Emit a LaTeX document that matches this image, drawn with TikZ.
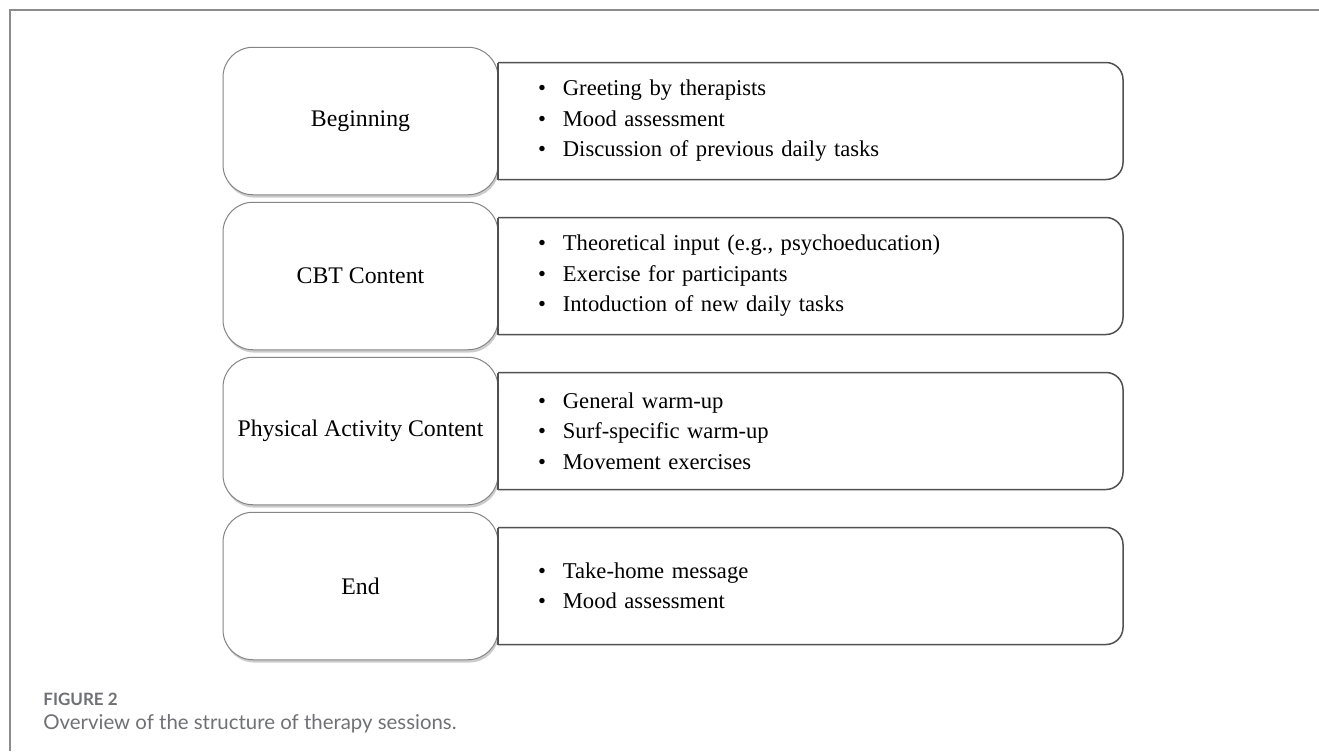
\documentclass[tikz,border=0pt]{standalone}
\usepackage{fontspec}
\setmainfont{Liberation Serif}
\newfontfamily\capfont{Lato}
\usetikzlibrary{positioning,shadows}
\definecolor{framegray}{HTML}{8C8C8C}
\definecolor{capgray}{HTML}{707174}
\definecolor{linegray}{HTML}{505050}
\definecolor{boxgray}{HTML}{858585}
\newcommand{\blt}{\textbullet\hspace{8.5pt}}

\begin{document}
\begin{tikzpicture}[x=0.5pt, y=-0.5pt, node distance=3.75pt,
  stage/.style={rectangle, draw=boxgray, line width=0.5pt, fill=white, rounded corners=15pt,
    minimum width=137.5pt, minimum height=73.75pt, outer sep=0pt,
    font=\fontsize{11.9}{14}\selectfont,
    drop shadow={shadow xshift=0.6pt, shadow yshift=-1.4pt, opacity=0.4}},
  items/.style={rectangle, text width=272.5pt, inner xsep=20pt, inner ysep=0pt,
    minimum height=58.5pt, align=left, outer sep=0pt, font=\fontsize{11.3}{15.25}\selectfont},
  itemline/.style={draw=linegray, line width=0.75pt},
  caption/.style={anchor=base west, inner sep=0pt, text=capgray}]
  \fill[white] (0,0) rectangle (1319,751);
  \useasboundingbox (0,0) rectangle (1319,751);
  \draw[framegray, line width=0.75pt] (1319,10) -- (10,10) -- (10,751);

  % left column
  \node (b1) at (360.5,121) [stage] {Beginning};
  \node (b2) [below=of b1, stage] {CBT Content};
  \node (b3) [below=of b2, stage] {Physical Activity Content};
  \node (b4) [below=of b3, stage] {End};

  % right column
  \node (r1) [right=0pt of b1, items] {\blt Greeting by therapists\\ \blt Mood assessment\\ \blt Discussion of previous daily tasks};
  \node (r2) [right=0pt of b2, items] {\blt Theoretical input (e.g., psychoeducation)\\ \blt Exercise for participants\\ \blt Intoduction of new daily tasks};
  \node (r3) [right=0pt of b3, items] {\blt General warm-up\\ \blt Surf-specific warm-up\\ \blt Movement exercises};
  \node (r4) [right=0pt of b4, items] {\blt Take-home message\\ \blt Mood assessment};

  \draw[itemline] (r1.north west) -- (r1.south west);
  \draw[itemline, rounded corners=8.5pt] (r1.north west) -- (r1.north east) -- (r1.south east) -- (r1.south west);
  \draw[itemline] (r2.north west) -- (r2.south west);
  \draw[itemline, rounded corners=8.5pt] (r2.north west) -- (r2.north east) -- (r2.south east) -- (r2.south west);
  \draw[itemline] (r3.north west) -- (r3.south west);
  \draw[itemline, rounded corners=8.5pt] (r3.north west) -- (r3.north east) -- (r3.south east) -- (r3.south west);
  \draw[itemline] (r4.north west) -- (r4.south west);
  \draw[itemline, rounded corners=8.5pt] (r4.north west) -- (r4.north east) -- (r4.south east) -- (r4.south west);

  \node (fig) at (43,705) [caption, font=\capfont\bfseries\fontsize{8.5}{10}\selectfont] {FIGURE 2};
  \node (cap) at (43,729) [caption, font=\capfont\fontsize{10.2}{12}\selectfont] {Overview of the structure of therapy sessions.};
\end{tikzpicture}
\end{document}
